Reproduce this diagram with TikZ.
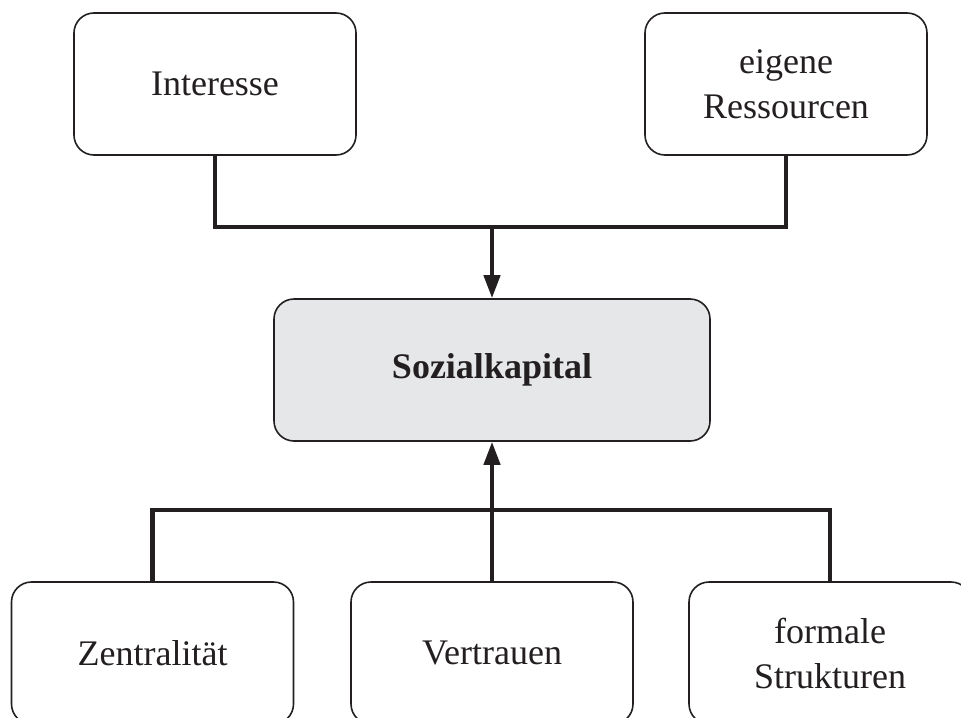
\documentclass[tikz,border=0pt]{standalone}
\usepackage{fontspec}
\setmainfont{Liberation Serif}
\usetikzlibrary{arrows.meta}
\definecolor{ink}{HTML}{231F20}
\definecolor{boxgray}{HTML}{E6E7E8}
\begin{document}
\begin{tikzpicture}[x=0.5pt,y=-0.5pt,
  box/.style={draw=ink, line width=0.8pt, rounded corners=10pt, fill=white,
    minimum width=141pt, minimum height=71pt, inner sep=0pt, align=center,
    text=ink, font=\fontsize{18}{22.5}\selectfont},
  core/.style={box, fill=boxgray, minimum width=218pt,
    font=\fontsize{18}{22.5}\selectfont\bfseries},
  conn/.style={draw=ink, line width=2.1pt, line join=miter},
  arr/.style={conn, -{Triangle[length=11.5pt,width=8pt]}}]
  \useasboundingbox (0,0) rectangle (961,717);
  \clip (0,0) rectangle (961,717);

  % upper level
  \node[box] (int) at (215,84) {Interesse};
  \node[box] (res) at (786,84) {eigene\\Ressourcen};

  % central concept
  \node[core] (soz) at (492,370) {Sozialkapital};

  % lower level (partly cut by the page edge)
  \node[box] (zen) at (152.5,653) {Zentralität};
  \node[box] (ver) at (492,653) {Vertrauen};
  \node[box] (for) at (830,653) {formale\\Strukturen};

  % junction points
  \coordinate (jt) at (492,227);
  \coordinate (jb) at (492,510);

  % connectors
  \draw[conn] (int.south) |- (jt) -| (res.south);
  \draw[arr] (jt) -- (soz.north);
  \draw[conn] (zen.north) |- (jb) -| (for.north);
  \draw[arr] (ver.north) -- (soz.south);
\end{tikzpicture}
\end{document}
